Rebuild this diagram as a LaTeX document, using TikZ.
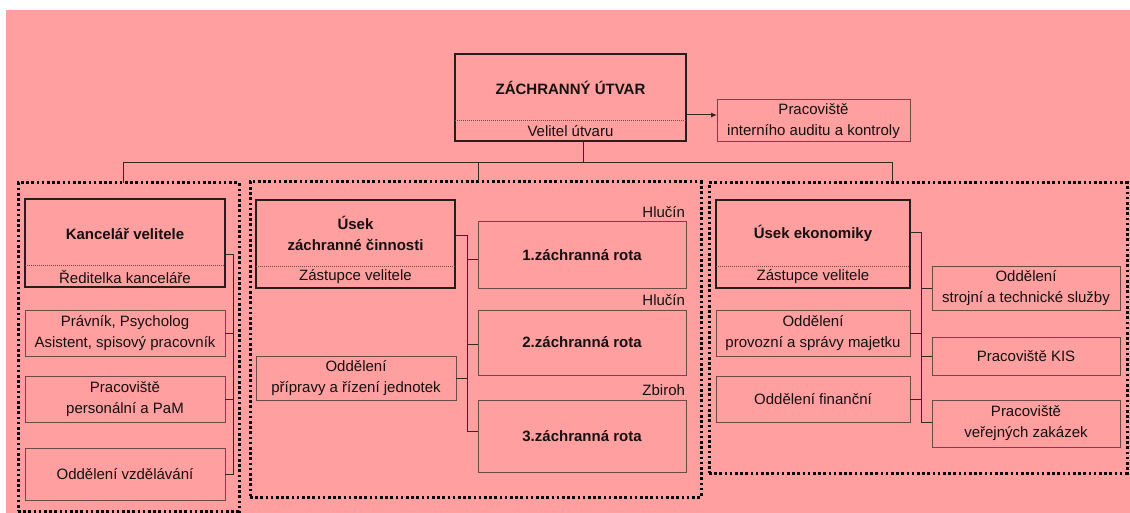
\documentclass[tikz,border=0pt]{standalone}
\usepackage{fontspec}
\setmainfont{Liberation Sans}
\usetikzlibrary{fit,arrows.meta}
\definecolor{bg}{RGB}{255,159,159}
\definecolor{txt}{RGB}{22,16,16}
\definecolor{hd}{RGB}{40,28,28}
\definecolor{sb}{RGB}{112,72,72}
\definecolor{ln}{RGB}{55,40,40}
\begin{document}
\begin{tikzpicture}[x=1pt,y=-1pt,
  every node/.style={inner sep=0pt, outer sep=0pt, text=txt, align=center,
    font=\fontsize{15}{21}\selectfont},
  headbox/.style={draw=hd, line width=1.6pt},
  subbox/.style={draw=sb, line width=1pt, minimum width=#1},
  grpbox/.style={draw=black, line width=3pt, dash pattern=on 2.6pt off 2.6pt},
  sepline/.style={draw=sb, line width=0.6pt, dash pattern=on 1pt off 1pt},
  conn/.style={draw=ln, line width=1pt},
  ttl/.style={font=\fontsize{15}{21}\selectfont\bfseries},
  loc/.style={anchor=east}
]
\useasboundingbox (0,0) rectangle (1130,513);
\fill[white] (0,0) rectangle (1130,513);
\fill[bg] (6,10) rectangle (1130,513);

% group boxes
\node[grpbox, fit={(18,183) (239,511)}] (grpL) {};
\node[grpbox, fit={(250,182) (701,497)}] (grpM) {};
\node[grpbox, fit={(709,183) (1127,473)}] (grpR) {};

% top
\node[headbox, fit={(455,54) (686,141)}] (main) {};
\node[ttl] (mainT) at (570.5,88) {ZÁCHRANNÝ ÚTVAR};
\node (mainS) at (570.5,131) {Velitel útvaru};
\coordinate (mainSep) at (0,120);
\draw[sepline] (main.west |- mainSep) -- (main.east |- mainSep);

\node[subbox=193, minimum height=42] (audit) at (813.5,121) {Pracoviště\\interního auditu a kontroly};
\coordinate (arrY) at (0,115);
\draw[conn, -{Latex[length=6pt,width=5pt]}] (main.east |- arrY) -- (audit.west |- arrY);

% bus
\coordinate (busL) at (123,163);
\coordinate (busM) at (583,163);
\coordinate (busC) at (478,163);
\coordinate (busR) at (892,163);
\draw[conn] (main.south -| busM) -- (busM);
\draw[conn] (busL |- grpL.north) -- (busL) -- (busR) -- (busR |- grpR.north);
\draw[conn] (busC) -- (busC |- grpM.north);

% left group
\node[headbox, fit={(25,199) (225,287)}] (kanc) {};
\node[ttl] (kancT) at (125,234) {Kancelář velitele};
\node (kancS) at (125,277) {Ředitelka kanceláře};
\coordinate (kancSep) at (0,265);
\draw[sepline] (kanc.west |- kancSep) -- (kanc.east |- kancSep);

\node[subbox=200, minimum height=46] (prav) at (125,333) {Právník, Psycholog\\Asistent, spisový pracovník};
\node[subbox=200, minimum height=46] (pers) at (125,399) {Pracoviště\\personální a PaM};
\node[subbox=200, minimum height=52] (vzd) at (125,474) {Oddělení vzdělávání};

\coordinate (tL) at (233,255);
\draw[conn] (kanc.east |- tL) -- (tL) -- (tL |- vzd.east) -- (vzd.east);
\draw[conn] (prav.east) -- (tL |- prav.east);
\draw[conn] (pers.east) -- (tL |- pers.east);

% middle group
\node[headbox, fit={(256,200) (455,288)}] (usz) {};
\node[ttl] (uszT) at (355.5,233) {Úsek\\záchranné činnosti};
\node (uszS) at (355.5,277) {Zástupce velitele};
\coordinate (uszSep) at (0,266);
\draw[sepline] (usz.west |- uszSep) -- (usz.east |- uszSep);

\node[subbox=200, minimum height=44] (ppr) at (356,378) {Oddělení\\přípravy a řízení jednotek};

\node[subbox=208, minimum height=66, ttl] (r1) at (582,255) {1.záchranná rota};
\node[subbox=208, minimum height=65, ttl] (r2) at (582,342.5) {2.záchranná rota};
\node[subbox=208, minimum height=72, ttl] (r3) at (582,436) {3.záchranná rota};
\node[loc] (l1) at (685,212) {Hlučín};
\node[loc] (l2) at (685,300) {Hlučín};
\node[loc] (l3) at (685,390) {Zbiroh};

\coordinate (tM) at (467,236);
\coordinate (r1y) at (0,260);
\coordinate (r2y) at (0,344);
\coordinate (r3y) at (0,431);
\draw[conn] (usz.east |- tM) -- (tM) -- (tM |- r3y) -- (r3.west |- r3y);
\draw[conn] (tM |- r1y) -- (r1.west |- r1y);
\draw[conn] (tM |- r2y) -- (r2.west |- r2y);
\draw[conn] (ppr.east) -- (tM |- ppr.east);

% right group
\node[headbox, fit={(716,200) (910,288)}] (use) {};
\node[ttl] (useT) at (813,233) {Úsek ekonomiky};
\node (useS) at (813,277) {Zástupce velitele};
\coordinate (useSep) at (0,266);
\draw[sepline] (use.west |- useSep) -- (use.east |- useSep);

\node[subbox=194, minimum height=46] (prov) at (813,333) {Oddělení\\provozní a správy majetku};
\node[subbox=194, minimum height=46] (fin) at (813,399) {Oddělení finanční};

\node[subbox=188, minimum height=44] (stroj) at (1026,288) {Oddělení\\strojní a technické služby};
\node[subbox=188, minimum height=38] (kis) at (1026,356) {Pracoviště KIS};
\node[subbox=188, minimum height=47] (vz) at (1026,423.5) {Pracoviště\\veřejných zakázek};

\coordinate (tR) at (921,233);
\coordinate (vzy) at (0,422);
\draw[conn] (use.east |- tR) -- (tR) -- (tR |- vzy) -- (vz.west |- vzy);
\draw[conn] (prov.east) -- (tR |- prov.east);
\draw[conn] (fin.east) -- (tR |- fin.east);
\draw[conn] (stroj.west) -- (tR |- stroj.west);
\draw[conn] (kis.west) -- (tR |- kis.west);
\end{tikzpicture}
\end{document}
